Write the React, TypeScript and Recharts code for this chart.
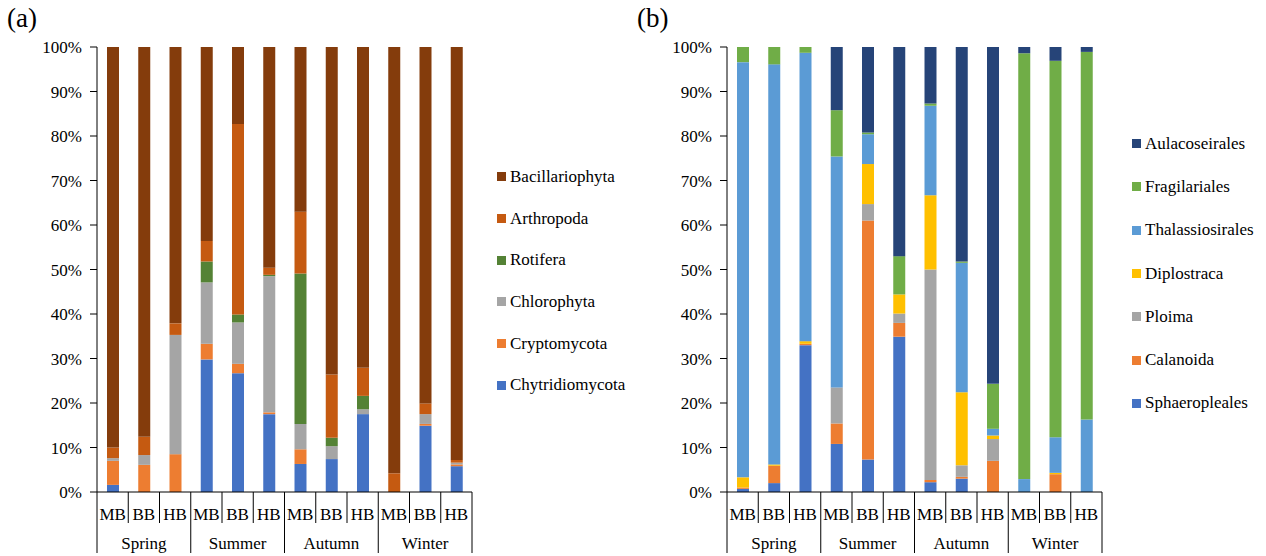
import React from "react";
import { Bar, BarChart, Legend, XAxis, YAxis } from "recharts";

const SEASONS = ["Spring", "Summer", "Autumn", "Winter"];
const SITES = ["MB", "BB", "HB"];
const PERCENT_TICKS = [0, 10, 20, 30, 40, 50, 60, 70, 80, 90, 100];

// panel (a): phylum level, bottom of the stack first
const A_NAMES = ["Chytridiomycota", "Cryptomycota", "Chlorophyta", "Rotifera", "Arthropoda", "Bacillariophyta"];
const A_COLORS = ["#4472c4", "#ed7d31", "#a5a5a5", "#548235", "#c55a11", "#843c0c"];
const chytridiomycota = [1.6, 0, 0, 29.8, 26.7, 17.5, 6.3, 7.4, 17.5, 0, 14.9, 5.8];
const cryptomycota = [5.4, 6.1, 8.5, 3.5, 2.1, 0.4, 3.3, 0, 0, 0, 0.4, 0.4];
const chlorophyta = [0.6, 2.2, 26.8, 13.8, 9.3, 30.6, 5.7, 2.9, 1.1, 0, 2.2, 0.4];
const rotifera = [0, 0, 0, 4.7, 1.8, 0.3, 33.8, 1.9, 3.0, 0, 0, 0];
const arthropoda = [2.4, 4.1, 2.6, 4.6, 42.8, 1.6, 13.9, 14.2, 6.3, 4.2, 2.4, 0.6];
const bacillariophyta = [90, 87.6, 62.1, 43.6, 17.3, 49.6, 37, 73.6, 72.1, 95.8, 80.1, 92.8];

// panel (b): order level
const B_NAMES = ["Sphaeropleales", "Calanoida", "Ploima", "Diplostraca", "Thalassiosirales", "Fragilariales", "Aulacoseirales"];
const B_COLORS = ["#4472c4", "#ed7d31", "#a5a5a5", "#ffc000", "#5b9bd5", "#70ad47", "#264478"];
const sphaeropleales = [0.7, 2.0, 33.0, 10.8, 7.3, 34.9, 2.2, 3.0, 0, 0, 0, 0];
const calanoida = [0.3, 3.9, 0.3, 4.6, 53.7, 3.1, 0.5, 0.4, 7.0, 0, 4.0, 0];
const ploima = [0, 0, 0, 8.1, 3.7, 2.1, 47.3, 2.6, 4.9, 0, 0, 0];
const diplostraca = [2.3, 0.3, 0.6, 0, 9.0, 4.3, 16.7, 16.4, 0.8, 0, 0.3, 0];
const thalassiosirales = [93.3, 89.9, 64.8, 51.9, 6.7, 0, 20.1, 29.1, 1.5, 2.9, 8.0, 16.3];
const fragilariales = [3.4, 3.9, 1.3, 10.4, 0.4, 8.6, 0.5, 0.3, 10.1, 95.7, 84.6, 82.6];
const aulacoseirales = [0, 0, 0, 14.2, 19.2, 47.0, 12.7, 48.2, 75.7, 1.4, 3.1, 1.1];

const A_SERIES = [chytridiomycota, cryptomycota, chlorophyta, rotifera, arthropoda, bacillariophyta];
const B_SERIES = [sphaeropleales, calanoida, ploima, diplostraca, thalassiosirales, fragilariales, aulacoseirales];

const FONT = "Liberation Serif";
const H = 556;
const TOP = 47;
const AXIS_Y = 492;
const PLOT_W = 375;
const BAND = PLOT_W / 12;

function buildRows(names: string[], series: number[][]) {
  const rows: any[] = [];
  SEASONS.forEach((season, s) => {
    SITES.forEach((site, k) => {
      const i = s * 3 + k;
      const row: any = { site, season };
      names.forEach((n, j) => (row[n] = series[j][i]));
      rows.push(row);
    });
  });
  return rows;
}

function SiteTick(props: any) {
  const { x, index, rows } = props;
  const row = rows[index];
  const right = x + BAND / 2;
  const endOfGroup = (index + 1) % 3 === 0;
  return (
    <g>
      {index === 0 && <line x1={x - BAND / 2} y1={AXIS_Y} x2={x - BAND / 2} y2={553} stroke="#000" />}
      <line x1={right} y1={AXIS_Y} x2={right} y2={endOfGroup ? 553 : 523} stroke="#000" />
      <text x={x} y={514} textAnchor="middle" dominantBaseline="central" fontSize={17} fill="#000" fontFamily={FONT}>
        {row.site}
      </text>
      {index % 3 === 1 && (
        <text x={x} y={543} textAnchor="middle" dominantBaseline="central" fontSize={17} fill="#000" fontFamily={FONT}>
          {row.season}
        </text>
      )}
    </g>
  );
}

// legend lists the top of the stack first
function renderLegend(names: string[], colors: string[], rowH: number) {
  return () => (
    <div style={{ fontFamily: FONT, fontSize: 17, color: "#000" }}>
      {names
        .map((n, j) => ({ n, c: colors[j] }))
        .reverse()
        .map(({ n, c }) => (
          <div key={n} style={{ height: rowH, display: "flex", alignItems: "center", whiteSpace: "nowrap" }}>
            <span style={{ width: 9, height: 9, background: c, marginRight: 4, display: "inline-block" }} />
            <span>{n}</span>
          </div>
        ))}
    </div>
  );
}

function Panel({ label, names, colors, series, left, width, legendLeft, legendTop, rowH }: any) {
  const rows = buildRows(names, series);
  const marginRight = width - 97 - PLOT_W;
  return (
    <div style={{ position: "absolute", left, top: 0, width, height: H }}>
      <div style={{ position: "absolute", left: 7, top: 3, fontFamily: FONT, fontSize: 27, color: "#000" }}>{label}</div>
      <BarChart
        width={width}
        height={H}
        data={rows}
        stackOffset="expand"
        barSize={12}
        margin={{ top: TOP, right: marginRight, bottom: 0, left: 0 }}
      >
        <XAxis
          dataKey="site"
          height={H - AXIS_Y}
          axisLine={{ stroke: "#000" }}
          tickLine={false}
          interval={0}
          tick={(p: any) => <SiteTick {...p} rows={rows} />}
        />
        <YAxis
          width={97}
          domain={[0, 1]}
          ticks={PERCENT_TICKS.map((t) => t / 100)}
          tickFormatter={(v: number) => `${Math.round(v * 100)}%`}
          axisLine={{ stroke: "#000" }}
          tickLine={{ stroke: "#000" }}
          tickSize={7}
          tickMargin={8}
          tick={{ fill: "#000", fontSize: 17, fontFamily: FONT }}
        />
        <Legend
          layout="vertical"
          align="center"
          verticalAlign="middle"
          wrapperStyle={{ left: legendLeft, top: legendTop, width: 160 }}
          content={renderLegend(names, colors, rowH)}
        />
        {names.map((n: string, j: number) => (
          <Bar key={n} dataKey={n} stackId="a" fill={colors[j]} isAnimationActive={false} />
        ))}
      </BarChart>
    </div>
  );
}

export default function App() {
  return (
    <div style={{ position: "absolute", left: 0, top: 0, width: 1266, height: H, background: "#fff" }}>
      <Panel
        label="(a)"
        names={A_NAMES}
        colors={A_COLORS}
        series={A_SERIES}
        left={0}
        width={630}
        legendLeft={497}
        legendTop={156}
        rowH={41.7}
      />
      <Panel
        label="(b)"
        names={B_NAMES}
        colors={B_COLORS}
        series={B_SERIES}
        left={630}
        width={636}
        legendLeft={502}
        legendTop={122}
        rowH={43.3}
      />
    </div>
  );
}
